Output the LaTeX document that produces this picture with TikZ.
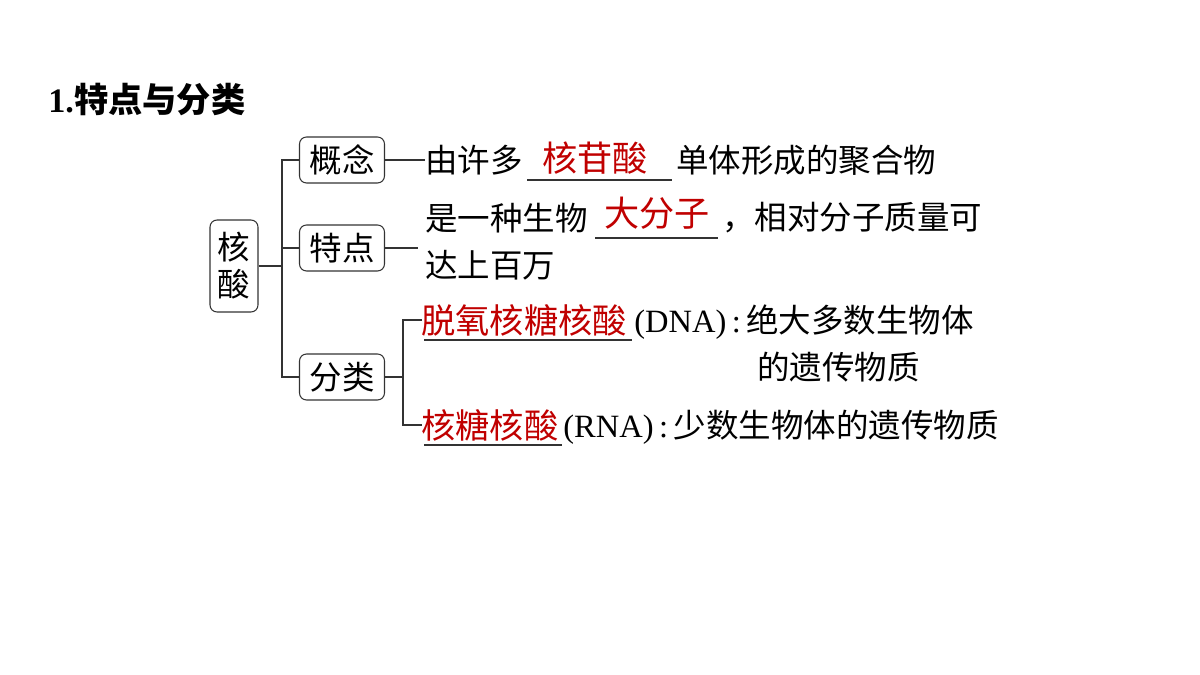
\documentclass[tikz,border=0pt]{standalone}
\usepackage{fontspec}
\setmainfont{Liberation Serif}
\newfontfamily\cjk{Noto Sans CJK SC}
\usetikzlibrary{positioning}
\definecolor{ansred}{RGB}{192,0,0}
\tikzset{
  cbox/.style={draw=black!80, rounded corners=4pt, line width=0.6pt, minimum width=1.7cm, minimum height=0.92cm, inner sep=1pt, font=\cjk\fontsize{18.5}{21}\selectfont},
  txt/.style={anchor=west, inner sep=0pt, font=\cjk\fontsize{18.5}{21}\selectfont},
  ans/.style={anchor=south, inner sep=1pt, text=ansred, font=\cjk\fontsize{20}{23}\selectfont},
  conn/.style={draw=black!80, line width=0.6pt}
}
\begin{document}
\begin{tikzpicture}[x=0.02cm, y=-0.02cm]
        \useasboundingbox (0,0) rectangle (1200,675);

        \node[anchor=west, inner sep=0pt, font=\cjk\bfseries\fontsize{19.5}{22}\selectfont] (title) at (48,100) {{\rmfamily\bfseries 1.}特点与分类};

        % boxes
        \node[cbox, minimum width=0.96cm, minimum height=1.84cm, align=center] (hs) at (234,266) {核\\酸};
        \node[cbox] (gn) at (342,160) {概念};
        \node[cbox] (td) at (342,248) {特点};
        \node[cbox] (fl) at (342,377) {分类};

        \coordinate (j1) at (282,266);
        \draw[conn] (hs.east) -- (j1);
        \draw[conn] (gn.west) -| (j1) |- (fl.west);
        \draw[conn] (td.west) -- (td.west -| j1);

        % 概念
        \node[txt] (t1) at (425,160) {由许多};
        \draw[conn] (527,180) -- (672,180);
        \node[ans] (a1) at (595,176) {核苷酸};
        \node[txt] (t1b) at (676,160) {单体形成的聚合物};
        \draw[conn] (gn.east) -- (t1.west);

        % 特点
        \node[txt] (t2) at (425,218) {是一种生物};
        \draw[conn] (595,238) -- (718,238);
        \node[ans] (a2) at (657,232) {大分子};
        \node[txt] (t2b) at (722,218) {，相对分子质量可};
        \node[txt] (t2c) at (425,265) {达上百万};
        \draw[conn] (td.east) -- (418,248);

        % 分类
        \coordinate (j2) at (403,377);
        \coordinate (d) at (422,320);
        \coordinate (r) at (422,425);
        \draw[conn] (fl.east) -- (j2);
        \draw[conn] (d) -- (d -| j2) -- (r -| j2) -- (r);
        \draw[conn] (424,340) -- (632,340);
        \node[txt, text=ansred, font=\cjk\fontsize{19.5}{22}\selectfont] (dna) at (421,320) {脱氧核糖核酸};
        \node[txt] (dnab) at (634,322) {{\rmfamily (DNA)\,:\,}绝大多数生物体};
        \node[txt] (dnac) at (757,367) {的遗传物质};
        \draw[conn] (424,445) -- (562,445);
        \node[txt, text=ansred, font=\cjk\fontsize{19.5}{22}\selectfont] (rna) at (421,425) {核糖核酸};
        \node[txt] (rnab) at (563,427) {{\rmfamily (RNA)\,:\,}少数生物体的遗传物质};
\end{tikzpicture}
\end{document}
